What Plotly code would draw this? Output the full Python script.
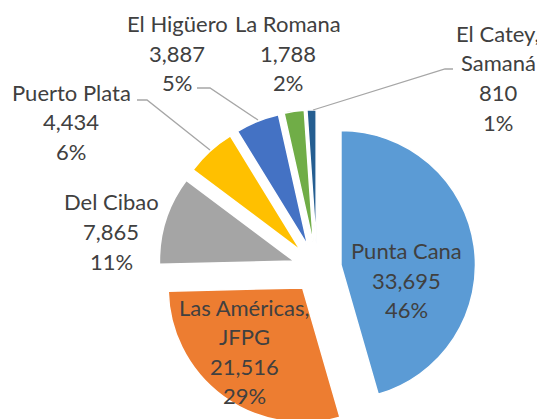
import plotly.graph_objects as go

# ---- data ----
categories = ["Punta Cana", "Las Américas, JFPG", "Del Cibao", "Puerto Plata",
              "El Higüero", "La Romana", "El Catey, Samaná"]
values = [33695, 21516, 7865, 4434, 3887, 1788, 810]
label_lines = [["Punta Cana"], ["Las Américas,", "JFPG"], ["Del Cibao"], ["Puerto Plata"],
               ["El Higüero"], ["La Romana"], ["El Catey,", "Samaná"]]
colors = ["#5B9BD5", "#ED7D31", "#A5A5A5", "#FFC000", "#4472C4", "#70AD47", "#255E91"]

# ---- layout constants (window pixels) ----
OFF = 8  # page body margin
W, H = 545 - OFF, 432 - OFF
CX, CY = 317.0, 268.4
R = 134.5
PULL = 0.18
RB = R * (1 + PULL)

# label block anchors: (center x, first line center y, line spacing)
label_pos = [(406, 251, 29.3), (244, 307, 29.6), (111, 202, 29.5), (71, 92, 29.5),
             (177, 24, 29.3), (288, 24, 29.3), (498, 33, 29.7)]
leaders = [None, None, None,
           [(137, 100), (147, 100), (210, 150)],
           [(197, 88), (210, 88), (258, 120)],
           None,
           [(453, 69), (445, 69), (313, 110)]]

FONT = "Lato"
FSIZE = 22
TXT = "#404040"

total = sum(values)
pcts = [round(v / total * 100) for v in values]


def px(x):
    return (x - OFF) / W


def py(y):
    return 1 - (y - OFF) / H


fig = go.Figure(go.Pie(
    labels=categories, values=values, sort=False, direction="clockwise", rotation=0,
    pull=[PULL] * len(values), marker=dict(colors=colors, line=dict(color="white", width=1.5)),
    textinfo="none", hoverinfo="label+value+percent", showlegend=False,
    domain=dict(x=[px(CX - RB), px(CX + RB)], y=[py(CY + RB), py(CY - RB)]),
))

annotations = []
for i, (lines, v, p) in enumerate(zip(label_lines, values, pcts)):
    x0, y0, dy = label_pos[i]
    all_lines = lines + [f"{v:,}", f"{p}%"]
    for k, t in enumerate(all_lines):
        annotations.append(dict(x=px(x0), y=py(y0 + k * dy), xref="paper", yref="paper",
                                text=t, showarrow=False, xanchor="center", yanchor="middle",
                                font=dict(family=FONT, size=FSIZE, color=TXT)))

shapes = []
for pts in leaders:
    if pts:
        path = "M " + " L ".join(f"{px(a)},{py(b)}" for a, b in pts)
        shapes.append(dict(type="path", path=path, xref="paper", yref="paper",
                           line=dict(color="#A6A6A6", width=1.3)))

fig.update_layout(width=W, height=H, margin=dict(l=0, r=0, t=0, b=0),
                  paper_bgcolor="white", plot_bgcolor="white",
                  annotations=annotations, shapes=shapes)

fig.write_html("out.html")
